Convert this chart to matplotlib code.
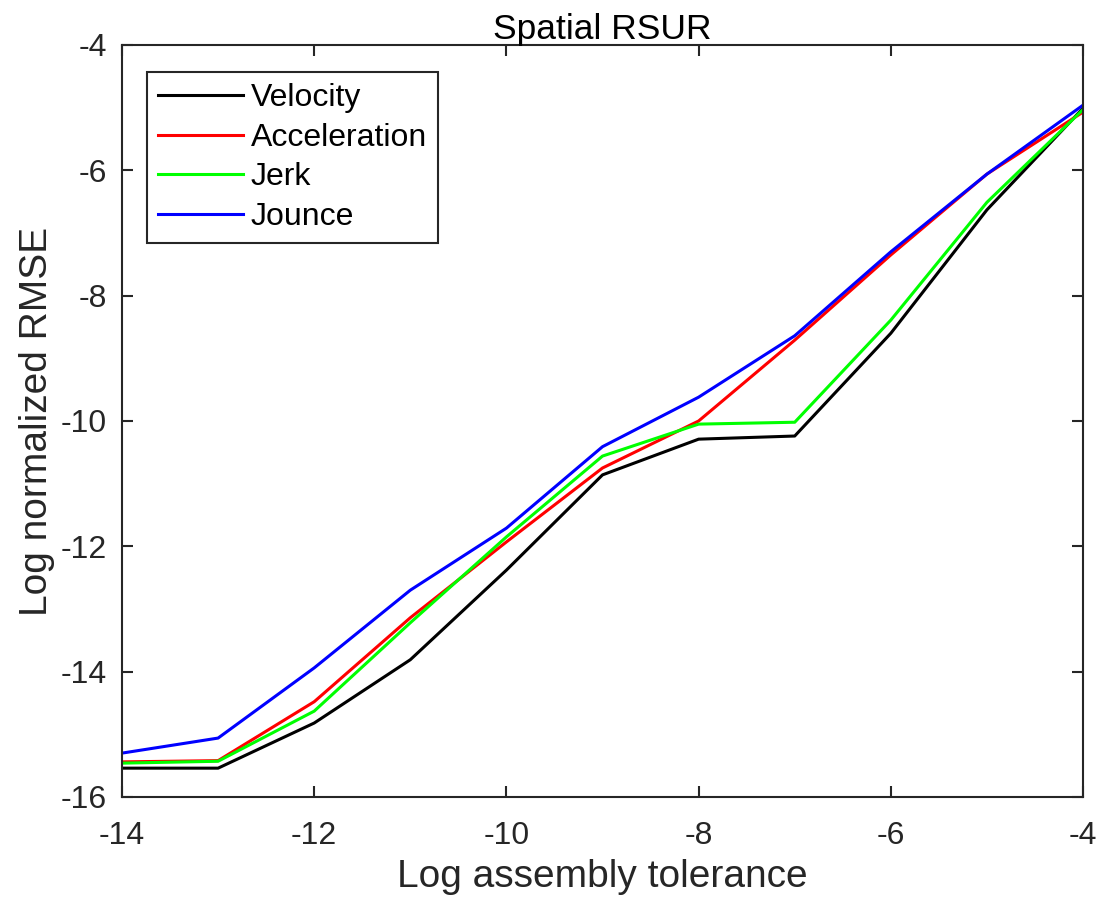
import matplotlib.pyplot as plt

plt.rcParams['font.family'] = ['Liberation Sans', 'DejaVu Sans']
plt.rcParams['axes.unicode_minus'] = False

# Log assembly tolerance
tol = [-14, -13, -12, -11, -10, -9, -8, -7, -6, -5, -4]

# Log normalized RMSE per method
velocity = [-15.54, -15.54, -14.82, -13.81, -12.38, -10.86, -10.29, -10.24, -8.60, -6.63, -5.01]
acceleration = [-15.44, -15.42, -14.48, -13.14, -11.93, -10.75, -10.00, -8.71, -7.35, -6.06, -5.07]
jerk = [-15.46, -15.43, -14.63, -13.22, -11.85, -10.56, -10.05, -10.02, -8.39, -6.51, -5.03]
jounce = [-15.30, -15.06, -13.94, -12.70, -11.71, -10.41, -9.62, -8.64, -7.30, -6.06, -4.96]

labels = ['Velocity', 'Acceleration', 'Jerk', 'Jounce']
colors = ['black', '#ff0000', '#00ff00', '#0000ff']

fig = plt.figure(figsize=(11.02, 9.07), dpi=100)
ax = fig.add_axes([0.1107, 0.1213, 0.8721, 0.8291])

for series, lab, col in zip([velocity, acceleration, jerk, jounce], labels, colors):
    ax.plot(tol, series, color=col, lw=2.2, label=lab)

ax.set_xlim(-14, -4)
ax.set_ylim(-16, -4)
ax.set_xticks(range(-14, -3, 2))
ax.set_yticks(range(-16, -3, 2))

# MATLAB style box and inward ticks
for sp in ax.spines.values():
    sp.set_linewidth(1.5)
    sp.set_color('#262626')
ax.tick_params(direction='in', length=8, width=1.5, color='#262626',
               top=True, right=True, labelsize=23, labelcolor='#262626')
ax.tick_params(axis='x', pad=17)
ax.tick_params(axis='y', pad=11)

ax.set_xlabel('Log assembly tolerance', fontsize=28, color='#262626', labelpad=6)
ax.set_ylabel('Log normalized RMSE', fontsize=28, color='#262626', labelpad=4)
ax.set_title('Spatial RSUR', fontsize=25.5, pad=4)

leg = ax.legend(loc='upper left', bbox_to_anchor=(0.026, 0.964), borderaxespad=0,
                fontsize=23, fancybox=False, framealpha=1, handlelength=2.65,
                handletextpad=0.25, labelspacing=0.3, borderpad=0.35)
leg.get_frame().set_edgecolor('#262626')
leg.get_frame().set_linewidth(1.5)

fig.savefig('out.png', dpi=100)
